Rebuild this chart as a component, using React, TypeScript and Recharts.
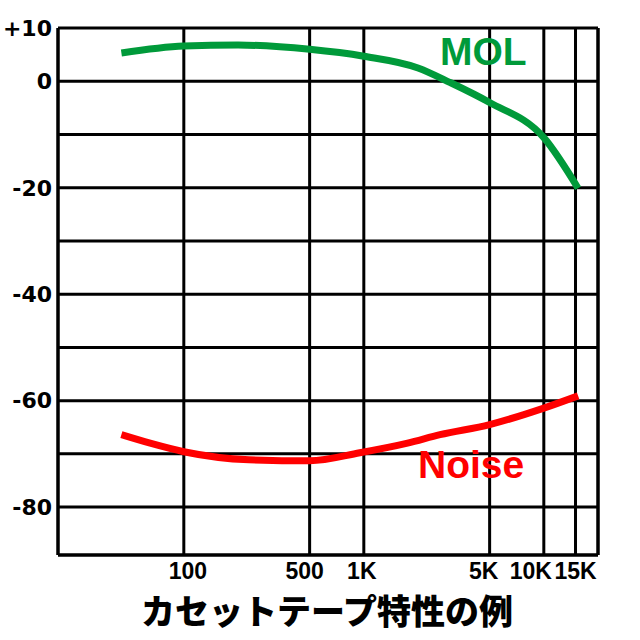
import { LineChart, Line, XAxis, YAxis, CartesianGrid, ReferenceLine } from 'recharts';

// frequency (Hz) and level (dB)
const molFreq = [45, 100, 200, 500, 1000, 2000, 3000, 5000, 10000, 15500];
const molDb = [5.3, 6.6, 6.8, 6.0, 4.7, 2.5, -0.2, -4.0, -10.6, -20.1];

const noiseFreq = [45, 65, 100, 230, 500, 950, 1750, 2650, 5000, 10000, 15500];
const noiseDb = [-66.4, -68, -69.6, -71.1, -71.3, -69.8, -68, -66.4, -64.5, -61.4, -59.1];

const xTicks = [100, 500, 1000, 5000, 10000, 15000];
const xTickLabels = ['100', '500', '1K', '5K', '10K', '15K'];
const yTicks = [10, 0, -10, -20, -30, -40, -50, -60, -70, -80];
const yTickLabels = ['+10', '0', '', '-20', '', '-40', '', '-60', '', '-80'];

const molData = molFreq.map((f, i) => ({ f, db: molDb[i] }));
const noiseData = noiseFreq.map((f, i) => ({ f, db: noiseDb[i] }));

const GREEN = '#009a3a';
const RED = '#ff0000';

// labels sit a little off their gridlines in the original, so 10K and 15K don't collide
const tickNudge: Record<string, number> = { '100': 4, '500': -5, '1K': -2, '5K': -6, '10K': -13, '15K': 0 };

function FreqTick({ x, y, payload }: any) {
  const label = xTickLabels[xTicks.indexOf(payload.value)] ?? '';
  return (
    <text
      x={x + (tickNudge[label] ?? 0)}
      y={y + 22}
      textAnchor="middle"
      fill="#000"
      fontSize={23}
      fontWeight={700}
      fontFamily="Liberation Sans"
    >
      {label}
    </text>
  );
}

export default function App() {
  return (
    <div style={{ position: 'relative', width: 640, height: 640, background: '#fff' }}>
      <style>{'body{margin:0}'}</style>
      <LineChart width={640} height={640} margin={{ top: 28, right: 42, left: 0, bottom: 0 }}>
        <CartesianGrid stroke="#000" strokeWidth={3} />
        <XAxis
          dataKey="f"
          type="number"
          scale="log"
          domain={[20, 20000]}
          allowDataOverflow
          ticks={xTicks}
          interval={0}
          height={85}
          tickLine={false}
          tickSize={0}
          axisLine={{ stroke: '#000', strokeWidth: 3 }}
          tick={<FreqTick />}
        />
        <YAxis
          type="number"
          domain={[-89, 10]}
          allowDataOverflow
          ticks={yTicks}
          interval={0}
          tickFormatter={(v: number) => yTickLabels[yTicks.indexOf(v)] ?? ''}
          width={58}
          tickLine={false}
          tickSize={0}
          tickMargin={6}
          axisLine={{ stroke: '#000', strokeWidth: 3 }}
          tick={{ fill: '#000', fontSize: 22, fontWeight: 700, fontFamily: 'DejaVu Sans' }}
        />
        <ReferenceLine x={20000} stroke="#000" strokeWidth={3} />
        <Line data={molData} dataKey="db" type="monotone" stroke={GREEN} strokeWidth={7} dot={false} isAnimationActive={false} />
        <Line data={noiseData} dataKey="db" type="monotone" stroke={RED} strokeWidth={7} dot={false} isAnimationActive={false} />
      </LineChart>
      <div style={{ position: 'absolute', left: 440, top: 32, fontFamily: 'Liberation Sans', fontWeight: 700, fontSize: 39, color: GREEN, lineHeight: 1 }}>
        MOL
      </div>
      <div style={{ position: 'absolute', left: 418, top: 445, fontFamily: 'Liberation Sans', fontWeight: 700, fontSize: 39, color: RED, lineHeight: 1 }}>
        Noise
      </div>
      <div style={{ position: 'absolute', left: 0, width: 654, top: 593, textAlign: 'center', fontFamily: '"Noto Sans CJK JP"', fontWeight: 900, fontSize: 34, color: '#000', lineHeight: 1 }}>
        カセットテープ特性の例
      </div>
    </div>
  );
}
